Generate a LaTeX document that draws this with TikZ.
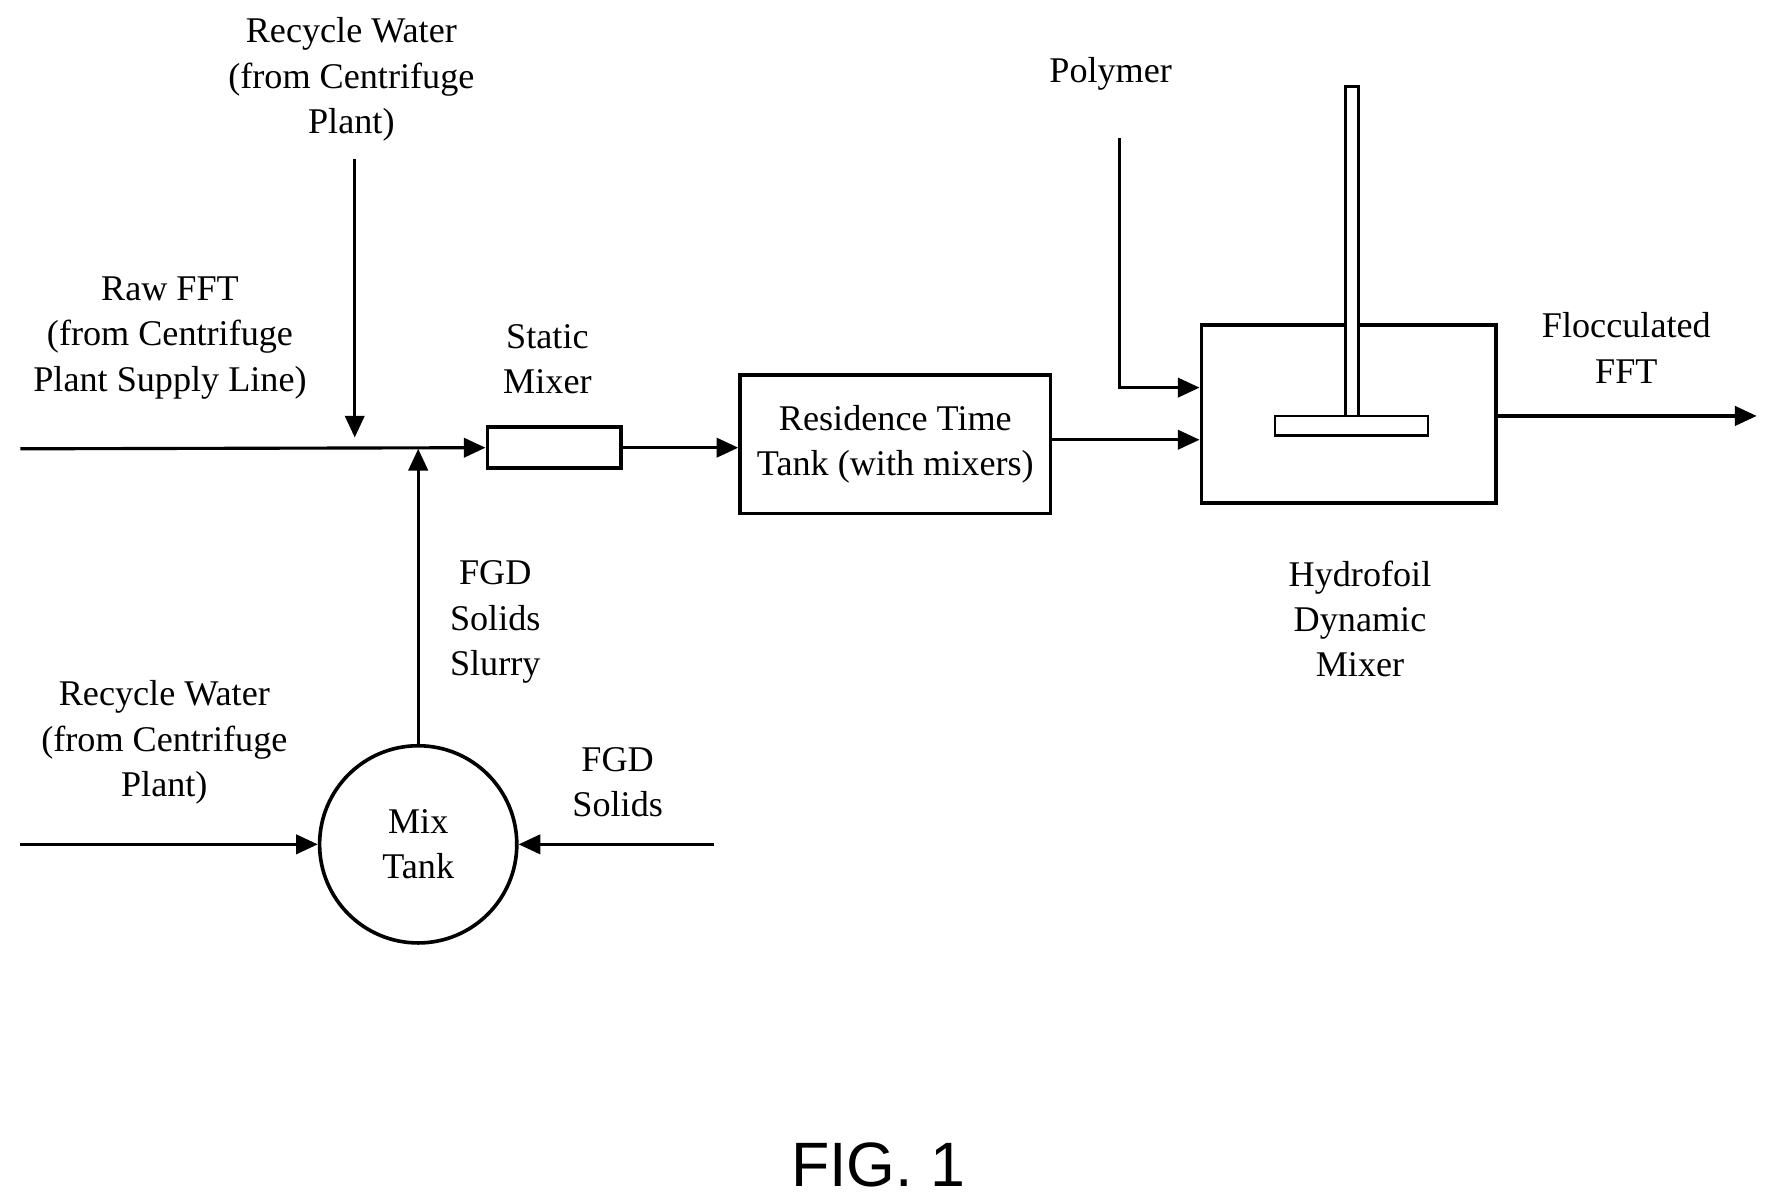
\documentclass[tikz,border=0pt]{standalone}
\usepackage{fontspec}
\setmainfont{Liberation Serif}
\newfontfamily\figfont{Liberation Sans}
\usetikzlibrary{arrows.meta}
\begin{document}
\begin{tikzpicture}[x=0.47pt,y=-0.47pt,line width=1.3pt,
  flow/.style={-{Triangle[length=9pt,width=8pt]}},
  lbl/.style={align=center,font=\fontsize{15}{18.8}\selectfont,inner sep=0pt},
  box/.style={draw,line width=1.5pt}]
\useasboundingbox (0,0) rectangle (1560,1062);
% boxes
\node[box,minimum width=118*0.47pt,minimum height=36*0.47pt,inner sep=0pt] (sm) at (489,395) {};
\node[box,minimum width=274*0.47pt,minimum height=122*0.47pt,inner sep=0pt] (rt) at (790,392) {};
\node[lbl] at (rt) {Residence Time\\Tank (with mixers)};
\node[box,minimum width=260*0.47pt,minimum height=157*0.47pt,inner sep=0pt] (dm) at (1190,365.5) {};
\node[draw,circle,line width=1.5pt,minimum size=174*0.47pt,inner sep=0pt] (mt) at (369,745) {};
\node[lbl] at (mt) {Mix\\Tank};
% shaft and blade
\node[draw,line width=1.2pt,minimum width=12*0.47pt,minimum height=291*0.47pt,inner sep=0pt,fill=white] (shaft) at (1193,221.5) {};
\node[draw,line width=1.2pt,minimum width=135*0.47pt,minimum height=17*0.47pt,inner sep=0pt,fill=white] (blade) at (1192.5,375.5) {};
% coordinates
\coordinate (rawin) at (18,396);
\coordinate (junc) at (369,396);
\coordinate (rwtop) at (313,140);
\coordinate (rwtopend) at (313,386);
\coordinate (polin) at (988,122);
\coordinate (polturn) at (988,342);
\coordinate (out) at (1550,367);
\coordinate (rwb) at (18,745);
\coordinate (fgdin) at (630,745);
% connectors
\draw[flow] (rawin) -- (sm.west);
\draw[flow] (rwtop) -- (rwtopend);
\draw[flow] (mt.north) -- (junc);
\draw[flow] (sm.east) -- (rt.west |- sm.east);
\draw[flow] (rt.east |- 0,388) -- (dm.west |- 0,388);
\draw[flow] (polin) -- (polturn) -- (dm.west |- polturn);
\draw[flow] (dm.east |- out) -- (out);
\draw[flow] (rwb) -- (mt.west);
\draw[flow] (fgdin) -- (mt.east);
% labels
\node[lbl] at (310,70) {Recycle Water\\(from Centrifuge\\Plant)};
\node[lbl] at (150,298) {Raw FFT\\(from Centrifuge\\Plant Supply Line)};
\node[lbl] at (483,317) {Static\\Mixer};
\node[lbl] at (980,65) {Polymer};
\node[lbl] at (1435,307) {Flocculated\\FFT};
\node[lbl] at (1200,546) {Hydrofoil\\Dynamic\\Mixer};
\node[lbl] at (437,549) {FGD\\Solids\\Slurry};
\node[lbl] at (145,655) {Recycle Water\\(from Centrifuge\\Plant)};
\node[lbl] at (545,690) {FGD\\Solids};
\node[inner sep=0pt,font=\figfont\fontsize{26}{30}\selectfont] at (775,1028) {FIG. 1};
\end{tikzpicture}
\end{document}
